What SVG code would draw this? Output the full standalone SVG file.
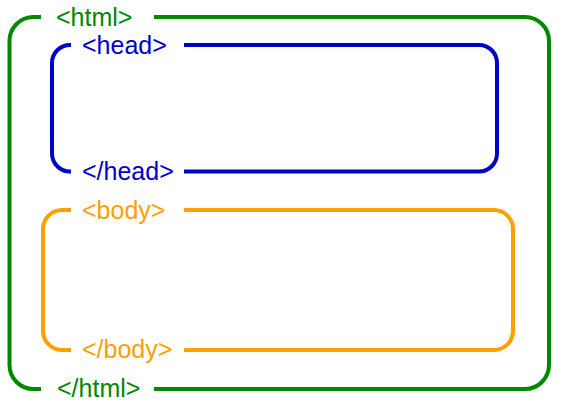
<svg xmlns="http://www.w3.org/2000/svg" width="562" height="412" viewBox="0 0 562 412">
<style>
.b{fill:none;stroke-width:4;stroke-linecap:butt;stroke-linejoin:round}
text{font-family:"Liberation Sans",Arial,sans-serif;font-size:25px}
.g{stroke:#008800}.gt{fill:#008800}
.u{stroke:#0000c8}.ut{fill:#0000c8}
.o{stroke:#ffa000}.ot{fill:#ffa000}
</style>
<rect width="562" height="412" fill="#fff"/>
<g id="html">
<path class="b g" d="M41,17 H33.5 A24,24 0 0 0 9.5,41 V365 A24,24 0 0 0 33.5,389 H41"/>
<path class="b g" d="M154,17 H525 A24,24 0 0 1 549,41 V365 A24,24 0 0 1 525,389 H154"/>
<text class="gt" x="56" y="26">&lt;html&gt;</text>
<text class="gt" x="57" y="397">&lt;/html&gt;</text>
</g>
<g id="head">
<path class="b u" d="M71,45 H70 A18,18 0 0 0 52,63 V153.5 A18,18 0 0 0 70,171.5 H71"/>
<path class="b u" d="M184,45 H479 A18,18 0 0 1 497,63 V153.5 A18,18 0 0 1 479,171.5 H184"/>
<text class="ut" x="82" y="53.5">&lt;head&gt;</text>
<text class="ut" x="82" y="179.5">&lt;/head&gt;</text>
</g>
<g id="body">
<path class="b o" d="M71,210 H62 A19,19 0 0 0 43,229 V331 A19,19 0 0 0 62,350 H71"/>
<path class="b o" d="M184,210 H494 A19,19 0 0 1 513,229 V331 A19,19 0 0 1 494,350 H184"/>
<text class="ot" x="82" y="218.5">&lt;body&gt;</text>
<text class="ot" x="82" y="358">&lt;/body&gt;</text>
</g>
<g id="connectors"></g>
</svg>
